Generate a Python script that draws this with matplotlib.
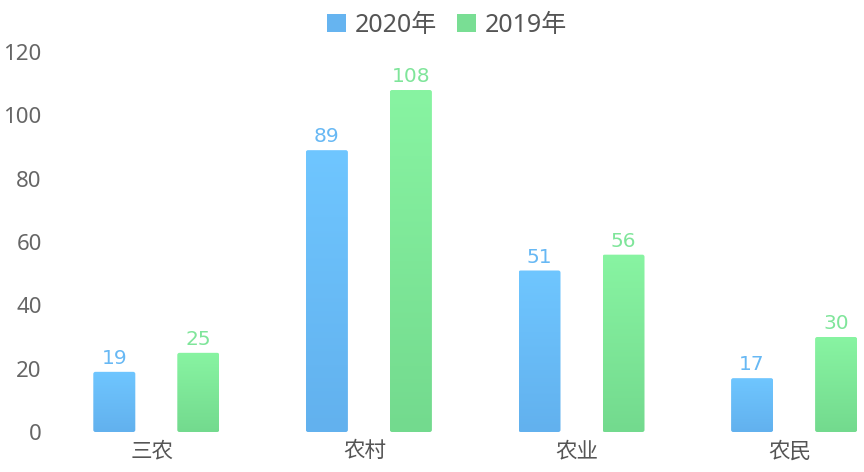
import matplotlib
matplotlib.use("Agg")
import matplotlib.pyplot as plt
import numpy as np
from matplotlib.patches import FancyBboxPatch, Patch
from matplotlib.colors import LinearSegmentedColormap

plt.rcParams['font.family'] = ['Noto Sans CJK SC', 'DejaVu Sans']

categories = ['三农', '农村', '农业', '农民']
values_2020 = [19, 89, 51, 17]
values_2019 = [25, 108, 56, 30]
series_names = ['2020年', '2019年']
yticks = [0, 20, 40, 60, 80, 100, 120]

W, H = 864, 472
fig = plt.figure(figsize=(W / 100, H / 100), dpi=100)
left_px, right_px = 50, 864
bottom_px, top_px = 432, 52
ax = fig.add_axes([left_px / W, 1 - bottom_px / H, (right_px - left_px) / W, (bottom_px - top_px) / H])

band = 212.6
xmax = (right_px - left_px) / band - 0.5
ax.set_xlim(-0.5, xmax)
ax.set_ylim(0, 120)

bw = 42 / band
off = 42 / band

blue_cmap = LinearSegmentedColormap.from_list('b', ['#62b1ee', '#6fc6ff'])
green_cmap = LinearSegmentedColormap.from_list('g', ['#73da8e', '#88f4a2'])

x = np.arange(len(categories))
for vals, sign, cmap, lab_color, name in [
    (values_2020, -1, blue_cmap, '#67b8f4', series_names[0]),
    (values_2019, 1, green_cmap, '#7fe59a', series_names[1])]:
    bars = ax.bar(x + sign * off, vals, width=bw, color='none', edgecolor='none', label=name)
    for b, v in zip(bars, vals):
        x0, w, h = b.get_x(), b.get_width(), b.get_height()
        grad = np.linspace(0, 1, 256).reshape(-1, 1)
        patch = FancyBboxPatch((x0, 0), w, h, boxstyle='round,pad=0,rounding_size=0.01',
                               mutation_aspect=120 / 380 * band,
                               facecolor='none', edgecolor='none')
        ax.add_patch(patch)
        im = ax.imshow(grad, extent=[x0, x0 + w, 0, h], origin='lower', cmap=cmap,
                       aspect='auto', zorder=2)
        im.set_clip_path(patch)
        ax.text(x0 + w / 2, h + 1.2, str(v), ha='center', va='bottom', fontsize=14.5,
                color=lab_color, family=['DejaVu Sans'])

ax.set_xlim(-0.5, xmax)
ax.set_ylim(0, 120)

for s in ax.spines.values():
    s.set_visible(False)
ax.set_xticks(x - 0.02)
ax.set_xticklabels(categories, fontsize=15.5, color='#555555')
ax.set_yticks(yticks)
ax.set_yticklabels([str(t) for t in yticks], fontsize=16, color='#666666', family=['Noto Sans'])
ax.tick_params(axis='both', length=0)
ax.tick_params(axis='x', pad=6)
ax.tick_params(axis='y', pad=6)

handles = [Patch(facecolor='#66b4f0', edgecolor='none'), Patch(facecolor='#79de94', edgecolor='none')]
leg = fig.legend(handles, series_names, loc='center', bbox_to_anchor=(447 / W, 1 - 25 / H), ncol=2,
                 frameon=False, prop={'family': ['Noto Sans', 'Noto Sans CJK SC'], 'size': 18},
                 handlelength=0.75, handleheight=0.75, handletextpad=0.35,
                 columnspacing=0.8, labelcolor='#555555', borderpad=0)

fig.savefig('out.png', dpi=100)
